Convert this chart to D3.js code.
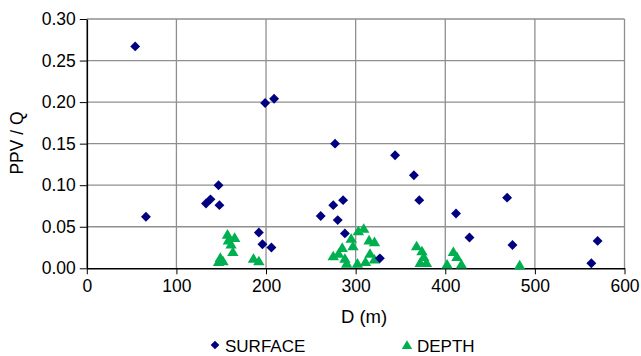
<!DOCTYPE html>
<html>
<head>
<meta charset="utf-8">
<script src="https://cdn.jsdelivr.net/npm/d3@7"></script>
<style>
  body { margin: 0; background: #fff; }
  svg { display: block; font-family: "Liberation Sans", Arial, Helvetica, sans-serif; }
</style>
</head>
<body>
<div id="chart"></div>
<script>
// values: D (m) and PPV / Q
var surfaceD = [54, 66, 133, 138, 147, 148, 192, 196, 206, 199, 209, 261, 275, 286, 280, 277, 288, 327,
  344, 365, 371, 412, 427, 469, 475, 570, 563]
var surfaceV = [0.267, 0.062, 0.078, 0.083, 0.100, 0.076, 0.043, 0.029, 0.025, 0.199, 0.204, 0.063, 0.076,
  0.082, 0.058, 0.150, 0.042, 0.012, 0.136, 0.112, 0.082, 0.066, 0.037, 0.085, 0.028, 0.033, 0.006]

var depthD = [147, 149, 152, 157, 165, 161, 163, 158, 186, 192,
  309, 303, 295, 297, 315, 321, 281, 275, 288, 290, 302, 316, 321, 311, 285,
  368, 374, 376, 372, 379, 409, 413, 402, 418, 483]
var depthV = [0.008, 0.013, 0.009, 0.041, 0.037, 0.029, 0.020, 0.034, 0.012, 0.009,
  0.048, 0.045, 0.036, 0.027, 0.034, 0.032, 0.018, 0.015, 0.012, 0.006, 0.006, 0.018, 0.011, 0.008, 0.025,
  0.027, 0.021, 0.014, 0.007, 0.007, 0.020, 0.014, 0.005, 0.005, 0.004]

var xTicks = [0, 100, 200, 300, 400, 500, 600]
var yTicks = [0, 0.05, 0.10, 0.15, 0.20, 0.25, 0.30]

var width = 641
var height = 356
var margin = { top: 19, right: 16.5, bottom: 87.7, left: 86.8 }

var navy = '#000080'
var green = '#00b050'

var svg = d3.select('#chart').append('svg')
  .attr('width', width)
  .attr('height', height)

var x = d3.scaleLinear()
  .domain([0, 600])
  .range([margin.left, width - margin.right])

var y = d3.scaleLinear()
  .domain([0, 0.3])
  .range([height - margin.bottom, margin.top])

// excel-ish markers
var diamond = {
  draw: function (ctx, size) {
    var r = Math.sqrt(size) / 2
    ctx.moveTo(0, -r)
    ctx.lineTo(r, 0)
    ctx.lineTo(0, r)
    ctx.lineTo(-r, 0)
    ctx.closePath()
  }
}
var triangle = {
  draw: function (ctx, size) {
    var r = Math.sqrt(size) / 2
    ctx.moveTo(0, -r)
    ctx.lineTo(r * 1.1, r * 0.85)
    ctx.lineTo(-r * 1.1, r * 0.85)
    ctx.closePath()
  }
}

// grid
svg.append('g')
  .attr('stroke', '#8f8f8f')
  .attr('stroke-width', 1.3)
  .selectAll('line.gx')
  .data(xTicks.slice(1))
  .enter()
  .append('line')
  .attr('x1', d => x(d))
  .attr('x2', d => x(d))
  .attr('y1', y(0.3))
  .attr('y2', y(0))

svg.append('g')
  .attr('stroke', '#8f8f8f')
  .attr('stroke-width', 1.3)
  .selectAll('line.gy')
  .data(yTicks.slice(1))
  .enter()
  .append('line')
  .attr('x1', x(0))
  .attr('x2', x(600))
  .attr('y1', d => y(d))
  .attr('y2', d => y(d))

// axes
var xAxis = g =>
  g
    .attr('transform', `translate(0,${y(0)})`)
    .call(d3.axisBottom(x).tickValues(xTicks).tickSize(6).tickSizeOuter(0).tickPadding(5))
    .attr('font-family', null)
    .attr('font-size', 17.5)
    .call(g => g.select('.domain').attr('stroke-width', 1.6))

var yAxis = g =>
  g
    .attr('transform', `translate(${x(0)},0)`)
    .call(d3.axisLeft(y).tickValues(yTicks).tickFormat(d3.format('.2f')).tickSize(7).tickSizeOuter(0).tickPadding(4))
    .attr('font-family', null)
    .attr('font-size', 17.5)
    .call(g => g.select('.domain').attr('stroke-width', 1.6))

svg.append('g').call(xAxis)
svg.append('g').call(yAxis)

svg.selectAll('.tick text').attr('fill', '#000')

// points
svg.append('g')
  .selectAll('path')
  .data(depthD)
  .enter()
  .append('path')
  .attr('transform', (d, i) => `translate(${x(d)},${y(depthV[i])})`)
  .attr('d', d3.symbol(triangle, 108))
  .attr('fill', green)

svg.append('g')
  .selectAll('path')
  .data(surfaceD)
  .enter()
  .append('path')
  .attr('transform', (d, i) => `translate(${x(d)},${y(surfaceV[i])})`)
  .attr('d', d3.symbol(diamond, 98))
  .attr('fill', navy)

// titles
svg.append('text')
  .attr('x', 364)
  .attr('y', 323)
  .attr('text-anchor', 'middle')
  .attr('font-size', 18.5)
  .text('D (m)')

svg.append('text')
  .attr('transform', 'translate(23,143) rotate(-90)')
  .attr('text-anchor', 'middle')
  .attr('font-size', 17.5)
  .text('PPV / Q')

// legend
var legend = [
  { name: 'SURFACE', type: diamond, size: 75, color: navy, x: 215 },
  { name: 'DEPTH', type: triangle, size: 90, color: green, x: 407 }
]

var lg = svg.append('g')
  .selectAll('g')
  .data(legend)
  .enter()
  .append('g')
  .attr('transform', d => `translate(${d.x},345)`)

lg.append('path')
  .attr('d', d => d3.symbol(d.type, d.size)())
  .attr('fill', d => d.color)

lg.append('text')
  .attr('x', 10)
  .attr('y', 6.5)
  .attr('font-size', 17)
  .text(d => d.name)
</script>
</body>
</html>
